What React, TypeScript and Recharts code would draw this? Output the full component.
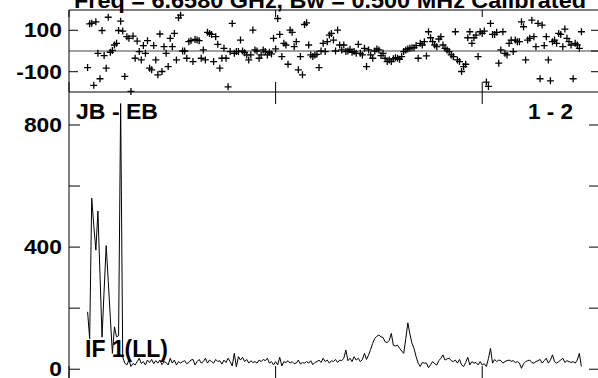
import React from "react";
import { ComposedChart, Scatter, Line, XAxis, YAxis, ReferenceLine } from "recharts";

// channel numbers start here, one value per channel
const firstChannel = 9;

// phase (degrees), one point per channel
const phase = [
  -80, 131, 134, -166, 141, -11, -134, 99, -22, -83, 163, -6, 3, 29, 37, 99, 144, 96, -123, 69,
  61, -195, 72, -35, 48, -3, -43, 26, -11, 50, -83, -91, 26, -43, -115, 82, -99, 21, -11, -75,
  61, 21, 85, -43, 160, 173, 0, 0, -35, 45, 50, -51, 56, 53, 50, -35, 5, -43, 90, 85,
  80, -51, 69, 32, -83, -35, 13, -35, -173, -3, 133, -11, -3, -3, 53, 0, -8,
  -19, -43, -19, 101, 5, 0, -35, -19, 5, -3, -19, -6, -14, 61, 10, 157, 80, -27, 37, 29,
  -64, 101, 90, 21, 45, -91, -27, -115, 128, 136, 29, -19, -27, -19, -16, -80, 0, 37, -3, 45,
  77, 85, 53, 0, 101, 29, 5, 29, -3, 0, 8, -6, -3, -11, 32, -11, -19, 13, -75, 5,
  -19, -35, 0, 10, 5, -22, -11, -35, -51, -43, -51, -38, -32, -35, -40, -27, -3, 5, 10, 13,
  16, 16, 26, -35, 37, 29, 45,
  -24, 93, 64, 45, 29, 21, 58, 69, 29, 13, 5, -3, -19, -27, 93, -43, -51, -99, -75, -64,
  64, 93, 37, 64, 77, -27, 93, 85, 96, -150, -171, 133, 80, 80, 90, -59, 5, 93, -11, -19,
  37, 53, -3, 53, 45, 45, 141, 117, -43, 53, 61, 149, 69, 21, 133, -134, 125, 26, 69, -43,
  -144, 45, 53, 37, 85, 80, 21, 106, 61, 45, 29, -134, 37, 29, 13, 93,
];

// amplitude, one value per channel
const amplitude = [
  188, 100, 560, 470, 390, 518, 310, 105, 260, 405, 288, 170, 52, 139, 106, 110, 870, 40,
  20, 14, 30, 9, 19, 14, 25, 36, 19, 25, 14, 30, 22, 32, 18, 28, 20, 30, 15, 25, 22,
  14, 36, 20, 30, 14, 25, 20, 25, 28, 18, 22, 30, 32, 14, 25, 32, 20, 25, 36, 20,
  30, 25, 20, 32, 25, 28, 17, 30, 22, 36, 25, 11, 52, 8, 41, 30, 39, 25, 32, 20,
  28, 22, 25, 20, 30, 25, 32, 28, 36, 20, 25, 14, 25, 14, 39, 11, 25, 22, 28, 20,
  25, 18, 20, 30, 17, 22, 20, 25, 20, 28, 15, 22, 25, 30, 22, 36, 25, 30, 20, 28,
  25, 32, 22, 30, 28, 36, 63, 28, 36, 25, 41, 30, 36, 25, 32, 52, 32,
  47, 65, 85, 101, 108, 112, 106, 104, 90, 87, 95, 117, 78, 76, 79, 68, 60, 52, 100, 152,
  115, 85, 68, 41, 20, 9, 22, 20,
  20, 5, 15, 25, 18, 14, 28, 36, 47, 30, 34, 36, 28, 25, 30, 20, 32, 14, 9, 22,
  39, 14, 25, 20, 22, 14, 25, 14, 18, 9, 35, 68, 20, 32, 25, 30, 28, 20, 25, 28,
  30, 26, 28, 22, 25, 20, 3, 18, 25, 28, 30, 22, 20, 25, 28, 32, 20, 28, 36, 20,
  30, 47, 25, 20, 25, 30, 36, 22, 28, 25, 22, 25, 20, 30, 52, 9,
];

const channelDomain = [0, 257];
const channelTicks = [0, 100, 200];
const topTickChannels = [100, 200];
const phaseDomain = [-198, 198];
const phaseTicks = [-100, 100];
const phaseRightTicks = [-100, 0, 100];
const ampDomain = [-32, 908];
const ampTicks = [0, 200, 400, 600, 800];
const ampLabels = [0, 400, 800];

const title = "Freq =  6.6580 GHz, Bw =  0.500 MHz   Calibrated";
const baselineName = "JB - EB";
const antennaPair = "1 - 2";
const ifName = "IF 1(LL)";

const rows = phase.map((p, i) => ({ ch: firstChannel + i, phase: p, amp: amplitude[i] }));

const font = "'Liberation Sans', Arial, Helvetica, sans-serif";

function Plus(props: any) {
  const { cx, cy } = props;
  if (cx == null || cy == null) return null;
  return (
    <path
      d={`M${cx - 3.5},${cy}H${cx + 3.5}M${cx},${cy - 3.5}V${cy + 3.5}`}
      stroke="#000"
      strokeWidth={1.3}
      fill="none"
    />
  );
}

// stretched bold numbers like the plot package draws them
function TickLabel(props: any) {
  const { x, y, payload, show } = props;
  if (show && !show.includes(payload.value)) return <g />;
  const s = String(payload.value);
  const len = s.split("").reduce((w, c) => w + (c === "-" ? 7.6 : 12.7), 0);
  return (
    <text
      x={x}
      y={y}
      dy={7}
      textAnchor="end"
      fontFamily={font}
      fontWeight="bold"
      fontSize={19.5}
      fill="#000"
      textLength={len}
      lengthAdjust="spacingAndGlyphs"
    >
      {s}
    </text>
  );
}

// tick marks only, no label (tick={false} would drop the marks too)
const noLabel = () => <g />;

// top ticks of the amplitude panel, hung off vertical reference lines
const topTick = (p: any) => {
  const top = Math.min(p.y1, p.y2);
  return <line x1={p.x1} x2={p.x1} y1={top} y2={top + 12} stroke="#000" strokeWidth={1} />;
};

const frame = { stroke: "#000", strokeWidth: 1 };

export default function App() {
  return (
    <div
      style={{
        position: "absolute",
        left: 0,
        top: 0,
        width: 598,
        height: 378,
        overflow: "hidden",
        background: "#fff",
      }}
    >
      <div style={{ position: "absolute", left: 0, top: 0 }}>
        <ComposedChart id="amp" width={620} height={400} data={rows} margin={{ top: 92, right: 19, bottom: 20, left: 0 }}>
          <XAxis xAxisId="b" type="number" dataKey="ch" domain={channelDomain} ticks={channelTicks} interval={0}
            height={1} tickSize={-13} tick={noLabel} axisLine={frame} tickLine={frame} />
          <YAxis yAxisId="l" type="number" domain={ampDomain} ticks={ampTicks} interval={0}
            width={69} tickSize={-11} tickMargin={18} axisLine={frame} tickLine={frame}
            tick={(p: any) => <TickLabel {...p} show={ampLabels} />} />
          <YAxis yAxisId="r" orientation="right" type="number" domain={ampDomain} ticks={ampTicks}
            interval={0} width={1} tickSize={-11} tick={noLabel} axisLine={frame} tickLine={frame} />
          {topTickChannels.map((t) => (
            <ReferenceLine key={t} xAxisId="b" yAxisId="l" x={t} shape={topTick} />
          ))}
          <Line xAxisId="b" yAxisId="l" type="linear" dataKey="amp" stroke="#000" strokeWidth={1}
            dot={false} isAnimationActive={false} />
          <Line xAxisId="b" yAxisId="r" dataKey="amp" stroke="none" dot={false} activeDot={false}
            isAnimationActive={false} />
        </ComposedChart>
      </div>
      <div style={{ position: "absolute", left: 0, top: 0 }}>
        <ComposedChart id="phase" width={620} height={100} data={rows} margin={{ top: 10, right: 19, bottom: 7, left: 0 }}>
          <XAxis xAxisId="b" type="number" dataKey="ch" domain={channelDomain} ticks={channelTicks} interval={0}
            height={1} tickSize={-10} tick={noLabel} axisLine={frame} tickLine={frame} />
          <YAxis yAxisId="l" type="number" domain={phaseDomain} ticks={phaseTicks} interval={0}
            width={69} tickSize={-9} tickMargin={16} axisLine={frame} tickLine={frame}
            tick={(p: any) => <TickLabel {...p} />} />
          <YAxis yAxisId="r" orientation="right" type="number" domain={phaseDomain} ticks={phaseRightTicks}
            interval={0} width={1} tickSize={-9} tick={noLabel} axisLine={frame} tickLine={frame} />
          <ReferenceLine xAxisId="b" yAxisId="l" y={0} stroke="#444" strokeWidth={1} />
          <Scatter xAxisId="b" yAxisId="l" dataKey="phase" shape={<Plus />} isAnimationActive={false} />
          {/* same points on the right axis, drawn invisibly so that axis gets a domain */}
          <Line xAxisId="b" yAxisId="r" dataKey="phase" stroke="none" dot={false} activeDot={false}
            isAnimationActive={false} />
        </ComposedChart>
      </div>
      {/* top frame of the phase panel: a flat strip whose bottom axis sits on the panel's top edge,
          ticks pointing down into the panel (top-oriented axes did not draw) */}
      <div style={{ position: "absolute", left: 0, top: 0 }}>
        <ComposedChart id="topframe" width={620} height={20} data={rows} margin={{ top: 0, right: 20, bottom: 9, left: 69 }}>
          <XAxis xAxisId="f" type="number" dataKey="ch" domain={channelDomain} ticks={channelTicks} interval={0}
            height={1} tickSize={7} tick={noLabel} axisLine={frame} tickLine={frame} />
          <YAxis yAxisId="f" hide type="number" domain={phaseDomain} />
          <Line xAxisId="f" yAxisId="f" dataKey="phase" stroke="none" dot={false} activeDot={false}
            isAnimationActive={false} />
        </ComposedChart>
      </div>
      <svg
        width={598}
        height={378}
        style={{ position: "absolute", left: 0, top: 0, pointerEvents: "none" }}
        fontFamily={font}
        fontWeight="bold"
        fill="#000"
      >
        <text x={74} y={7.5} fontSize={22} textLength={512} lengthAdjust="spacingAndGlyphs">{title}</text>
        <text x={76} y={119} fontSize={22} textLength={82} lengthAdjust="spacingAndGlyphs">{baselineName}</text>
        <text x={528} y={119} fontSize={22} textLength={45} lengthAdjust="spacingAndGlyphs">{antennaPair}</text>
        <text x={85} y={357} fontSize={23} textLength={83} lengthAdjust="spacingAndGlyphs">{ifName}</text>
      </svg>
    </div>
  );
}
